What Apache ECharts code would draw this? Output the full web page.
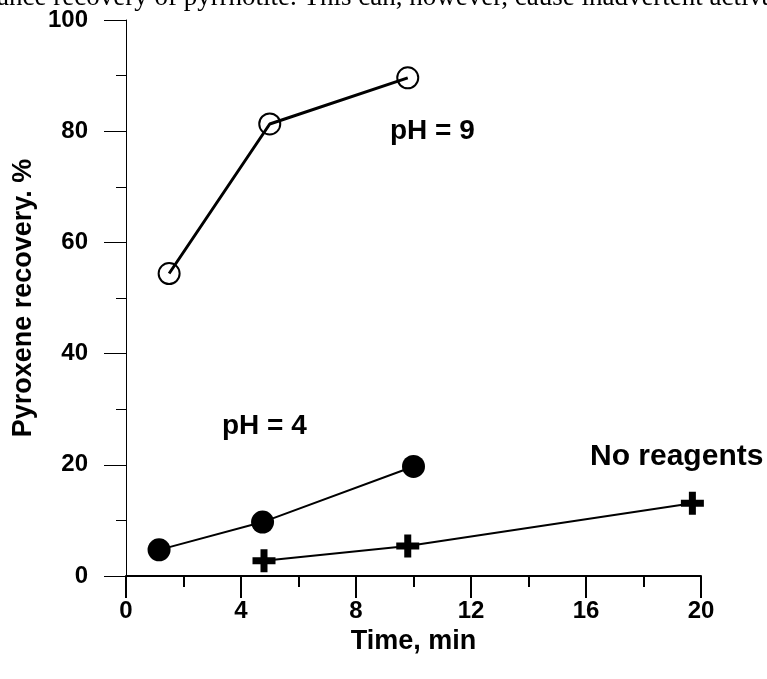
<!DOCTYPE html>
<html>
<head>
<meta charset="utf-8">
<script src="https://cdn.jsdelivr.net/npm/echarts@6/dist/echarts.min.js"></script>
<style>
html,body{margin:0;padding:0;background:#fff;}
#chart{width:767px;height:679px;}
</style>
</head>
<body>
<div id="chart"></div>
<script>
// ---- data ----
const xTicks = [0, 4, 8, 12, 16, 20];
const yTicks = [0, 20, 40, 60, 80, 100];
const ph9Time = [1.5, 5.0, 9.8];
const ph9Recovery = [54.4, 81.3, 89.6];
const ph4Time = [1.15, 4.75, 10.0];
const ph4Recovery = [4.7, 9.7, 19.7];
const noReagTime = [4.8, 9.8, 19.7];
const noReagRecovery = [2.75, 5.4, 13.1];
const seriesNames = ['pH = 9', 'pH = 4', 'No reagents'];
const xName = 'Time, min';
const yName = 'Pyroxene recovery. %';
const topText = 'ance recovery of pyrrhotite. This can, however, cause inadvertent activa';

const FONT = 'Liberation Sans, Arial, sans-serif';
const pairs = (xs, ys) => xs.map((x, i) => [x, ys[i]]);
const plusPath = 'path://M8,0 H15 V8 H23 V15 H15 V23 H8 V15 H0 V8 H8 Z';

const chart = echarts.init(document.getElementById('chart'), null, {renderer: 'canvas'});
chart.setOption({
  backgroundColor: '#fff',
  animation: false,
  grid: {left: 126, right: 66, top: 20, bottom: 103},
  xAxis: {
    type: 'value', min: xTicks[0], max: xTicks[xTicks.length - 1], interval: 4,
    axisLine: {show: true, onZero: false, lineStyle: {color: '#000', width: 2}},
    axisTick: {show: true, length: 22, lineStyle: {color: '#000', width: 2}},
    minorTick: {show: true, splitNumber: 2, length: 11, lineStyle: {color: '#000', width: 2}},
    splitLine: {show: false},
    axisLabel: {color: '#000', fontSize: 24, fontWeight: 'bold', fontFamily: FONT, margin: 23},
    name: xName, nameLocation: 'middle', nameGap: 40,
    nameTextStyle: {color: '#000', fontSize: 27, fontWeight: 'bold', fontFamily: FONT}
  },
  yAxis: {
    type: 'value', min: yTicks[0], max: yTicks[yTicks.length - 1], interval: 20, offset: 4,
    axisLine: {show: true, lineStyle: {color: '#000', width: 1}},
    axisTick: {show: true, length: 22, lineStyle: {color: '#000', width: 1}},
    minorTick: {show: true, splitNumber: 2, length: 10, lineStyle: {color: '#000', width: 1}},
    splitLine: {show: false},
    axisLabel: {color: '#000', fontSize: 24, fontWeight: 'bold', fontFamily: FONT, margin: 34},
    name: yName, nameLocation: 'middle', nameGap: 74, nameRotate: 90,
    nameTextStyle: {color: '#000', fontSize: 27, fontWeight: 'bold', fontFamily: FONT}
  },
  series: [
    {
      name: seriesNames[0], type: 'line', data: pairs(ph9Time, ph9Recovery),
      symbol: 'circle', symbolSize: 21,
      lineStyle: {color: '#000', width: 3},
      itemStyle: {color: 'rgba(0,0,0,0)', borderColor: '#000', borderWidth: 2}
    },
    {
      name: seriesNames[1], type: 'line', data: pairs(ph4Time, ph4Recovery),
      symbol: 'circle', symbolSize: 23,
      lineStyle: {color: '#000', width: 2},
      itemStyle: {color: '#000'}
    },
    {
      name: seriesNames[2], type: 'line', data: pairs(noReagTime, noReagRecovery),
      symbol: plusPath, symbolSize: 23, symbolKeepAspect: true,
      lineStyle: {color: '#000', width: 2},
      itemStyle: {color: '#000'}
    }
  ],
  graphic: [
    {type: 'text', x: 390, y: 131, style: {text: seriesNames[0], font: 'bold 28px ' + FONT, fill: '#000', verticalAlign: 'middle'}},
    {type: 'text', x: 222, y: 426, style: {text: seriesNames[1], font: 'bold 28px ' + FONT, fill: '#000', verticalAlign: 'middle'}},
    {type: 'text', x: 590, y: 457, style: {text: seriesNames[2], font: 'bold 30px ' + FONT, fill: '#000', verticalAlign: 'middle'}},
    {type: 'text', x: -3, y: 11, style: {text: topText, font: '27px Liberation Serif, Times New Roman, serif', fill: '#000', verticalAlign: 'bottom'}}
  ]
});
</script>
</body>
</html>
